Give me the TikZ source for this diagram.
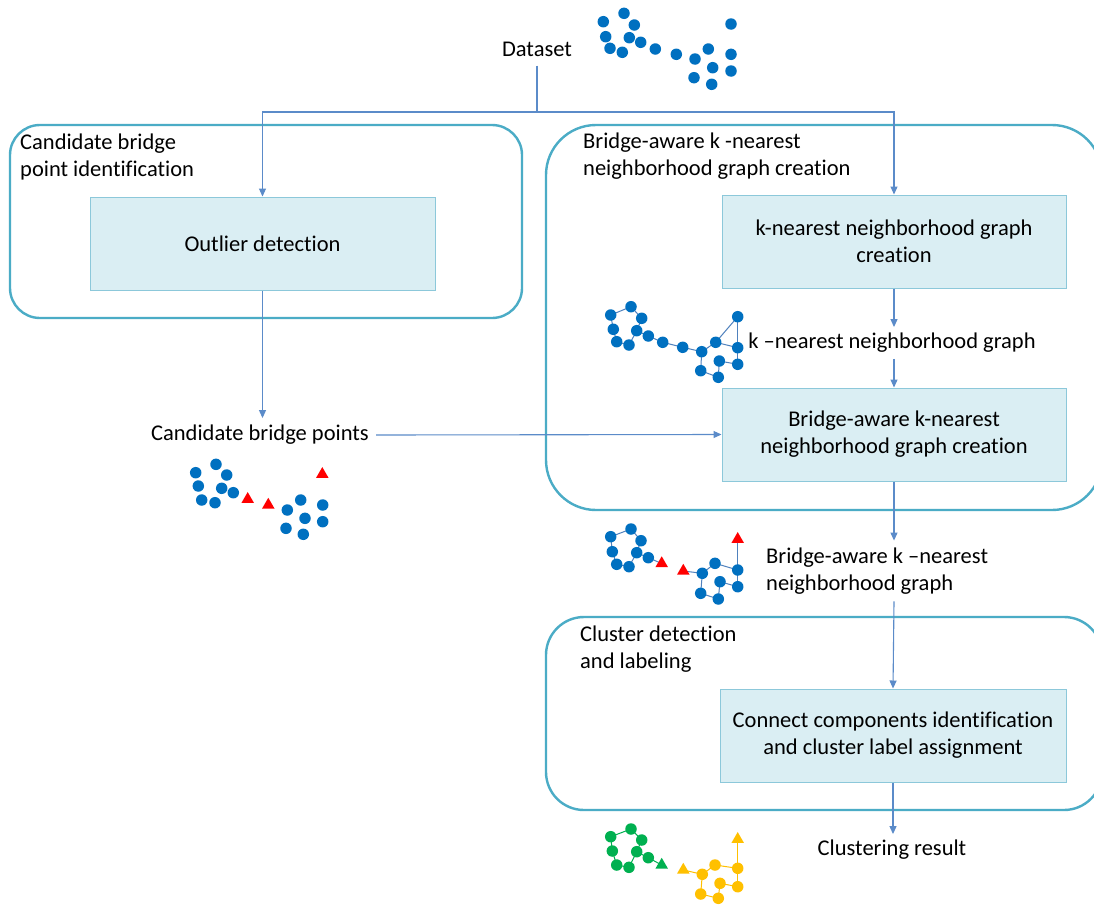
\documentclass[tikz,border=0pt]{standalone}
\usepackage{fontspec}
\setmainfont{Carlito}[Ligatures={NoCommon}]
\usetikzlibrary{arrows.meta,shapes.geometric}
\definecolor{dotblue}{HTML}{0070C0}
\definecolor{conblue}{HTML}{4BACC6}
\definecolor{boxfill}{HTML}{DAEEF3}
\definecolor{boxline}{HTML}{8CC8DA}
\definecolor{arrowc}{HTML}{5B8BC9}
\definecolor{gedge}{HTML}{4F81BD}
\definecolor{dgreen}{HTML}{00B050}
\definecolor{dyellow}{HTML}{FFC000}
\definecolor{dred}{HTML}{FF0000}
\tikzset{
  txt/.style={font=\fontsize{22.5}{27}\selectfont, inner sep=2pt},
  container/.style={draw=conblue, line width=2.4pt},
  procbox/.style={draw=boxline, fill=boxfill, line width=1pt, font=\fontsize{22.5}{27}\selectfont, align=center, inner sep=0pt},
  conn/.style={draw=arrowc, line width=1.1pt},
  arrow/.style={conn, -{Triangle[length=8pt,width=7pt]}},
  dot/.style={circle, fill=#1, inner sep=0pt, minimum size=11.5pt},
  dot/.default=dotblue,
  tri/.style={regular polygon, regular polygon sides=3, fill=#1, inner sep=0pt, minimum size=14.5pt},
  tri/.default=dred,
  gline/.style={draw=#1, line width=1pt},
  gline/.default=gedge
}
\begin{document}
\begin{tikzpicture}[x=1pt,y=-1pt]
\clip (0,0) rectangle (1094,905);
\fill[white] (0,0) rectangle (1094,905);

% containers
\draw[container, rounded corners=30pt] (10,125) rectangle (522,318);
\draw[container, rounded corners=50pt] (546,125) rectangle (1102,510);
\draw[container, rounded corners=38pt] (546,617) rectangle (1102,810);

% titles
\node[txt, anchor=west, align=left] (t1) at (18,156.5) {Candidate bridge\\point identification};
\node[txt, anchor=west, align=left] (t2) at (581,156.5) {Bridge-aware k -nearest\\neighborhood graph creation};
\node[txt, anchor=west, align=left] (t3) at (578,649.5) {Cluster detection\\and labeling};

% process boxes
\node[procbox, minimum width=345pt, minimum height=93pt] (outlier) at (262.5,243.5) {Outlier detection};
\node[procbox, minimum width=344pt, minimum height=93pt] (knn) at (894,241.5) {k-nearest neighborhood graph\\creation};
\node[procbox, minimum width=344pt, minimum height=93pt] (bridge) at (894,434.5) {Bridge-aware k-nearest\\neighborhood graph creation};
\node[procbox, minimum width=346pt, minimum height=93pt] (clus) at (893,735.5) {Connect components identification\\and cluster label assignment};

% texts
\node[txt, inner sep=9pt] (ds) at (537,49) {Dataset};
\node[txt, inner sep=7pt] (cbp) at (260,435) {Candidate bridge points};
\node[txt, inner sep=6pt] (kg) at (892,343) {k –nearest neighborhood graph};
\node[txt, anchor=west, align=left, inner sep=7pt] (ba) at (759,571) {Bridge-aware k –nearest\\neighborhood graph};
\node[txt, inner sep=6pt] (res) at (892,850) {Clustering result};

% connectors
\coordinate (j) at (537,112);
\draw[conn] (ds.south) -- (j);
\draw[arrow] (j) -| (outlier.north);
\draw[arrow] (j) -| (knn.north);
\draw[arrow] (outlier.south) -- (outlier.south |- cbp.north);
\draw[arrow] (cbp.east) -- (bridge.west);
\draw[arrow] (knn.south) -- (knn.south |- kg.north);
\draw[arrow] (knn.south |- kg.south) -- (bridge.north);
\draw[arrow] (bridge.south) -- (bridge.south |- ba.north);
\draw[arrow] (bridge.south |- ba.south) -- (clus.north);
\draw[arrow] (clus.south) -- (clus.south |- res.north);

% dataset scatter
\foreach \px/\py [count=\i] in {603.3/21.7,624/13.3,634.3/25,605.7/36.7,629.3/37.7,640.7/42.3,610/48.3,622.3/52.3,655.3/49,676.3/54.3,695/59,708.3/49,712.7/67.7,694/77.7,711.7/84.3,731/24,731/54.3,731/71}
  \node[dot] (d\i) at (\px,\py) {};

% candidate bridge points scatter
\foreach \px/\py [count=\i] in {195.7/472.7,216/464.3,226.7/475,198.3/486,221.7/488.3,233.3/492.7,201.7/500,215/502.7,287.3/510,300.7/500,305/518.3,322.7/505,322.7/521.7,286/528.3,303.3/534.3}
  \node[dot] (c\i) at (\px,\py) {};
\node[tri] (ct1) at (247.7,499.3) {};
\node[tri] (ct2) at (268.3,505) {};
\node[tri] (ct3) at (322.3,474.3) {};

% kNN graph
\foreach \nn/\px/\py in {A/610.7/315,B/631/306.7,C/641.7/318.3,D/613.3/329.3,E/636.7/330.7,F/616.7/341.7,G/629/345,H/648.3/336,I/662.7/342.3,J/682.7/347.3,K/701.7/351.7,L/715.7/342.3,M/737.7/316.7,N/737.7/347.7,O/719.3/361,P/737.7/364.3,Q/700.7/370.7,R/718.3/377.3}
  \coordinate (g\nn) at (\px,\py);
\foreach \sa/\sb in {A/B,B/C,C/E,A/D,D/F,F/G,G/E,E/H,H/I,I/J,J/K,K/L,L/M,M/N,L/N,K/Q,Q/R,R/O,O/P,P/N}
  \draw[gline] (g\sa) -- (g\sb);
\foreach \nn in {A,B,C,D,E,F,G,H,I,J,K,L,M,N,O,P,Q,R}
  \node[dot] (gn\nn) at (g\nn) {};

% bridge-aware graph
\foreach \nn/\px/\py in {A/610.7/536.7,B/631/529,C/641/540.7,D/612.3/551.7,E/636.7/552.7,F/616.7/564.3,G/629/566.7,H/648.3/557.7,S/661.7/563.5,T/683.3/571,U/737.7/539.3,K/702.3/573.3,L/715/563.3,N/737.7/570,O/720/581.7,P/737.7/586.7,Q/700.7/593.3,R/718.3/599}
  \coordinate (b\nn) at (\px,\py);
\foreach \sa/\sb in {A/B,B/C,C/E,A/D,D/F,F/G,G/E,E/H,H/S,T/K,K/L,L/N,N/U,K/Q,Q/R,R/O,O/P,P/N}
  \draw[gline] (b\sa) -- (b\sb);
\foreach \nn in {A,B,C,D,E,F,G,H,K,L,N,O,P,Q,R}
  \node[dot] (bn\nn) at (b\nn) {};
\foreach \nn in {S,T,U}
  \node[tri] (bn\nn) at (b\nn) {};

% clustering result
\foreach \nn/\px/\py in {A/610.7/836.7,B/631/829,C/641.7/840,D/612.3/851,E/636.7/851.7,F/616.7/865,G/629/867.3,H/648.3/857.7,S/661.7/865,T/683.3/870,U/737.7/839.3,K/702.3/874.3,L/715/865,N/737.7/868.3,O/720/883.3,P/737.7/886.7,Q/700.7/894,R/718.3/898.3}
  \coordinate (r\nn) at (\px,\py);
\foreach \sa/\sb in {A/B,B/C,C/E,A/D,D/F,F/G,G/E,E/H,H/S}
  \draw[gline=dgreen] (r\sa) -- (r\sb);
\foreach \sa/\sb in {T/K,K/L,L/N,N/U,K/Q,Q/R,R/O,O/P,P/N}
  \draw[gline=dyellow] (r\sa) -- (r\sb);
\foreach \nn in {A,B,C,D,E,F,G,H}
  \node[dot=dgreen] (rn\nn) at (r\nn) {};
\node[tri=dgreen] (rnS) at (rS) {};
\foreach \nn in {K,L,N,O,P,Q,R}
  \node[dot=dyellow] (rn\nn) at (r\nn) {};
\foreach \nn in {T,U}
  \node[tri=dyellow] (rn\nn) at (r\nn) {};
\end{tikzpicture}
\end{document}
